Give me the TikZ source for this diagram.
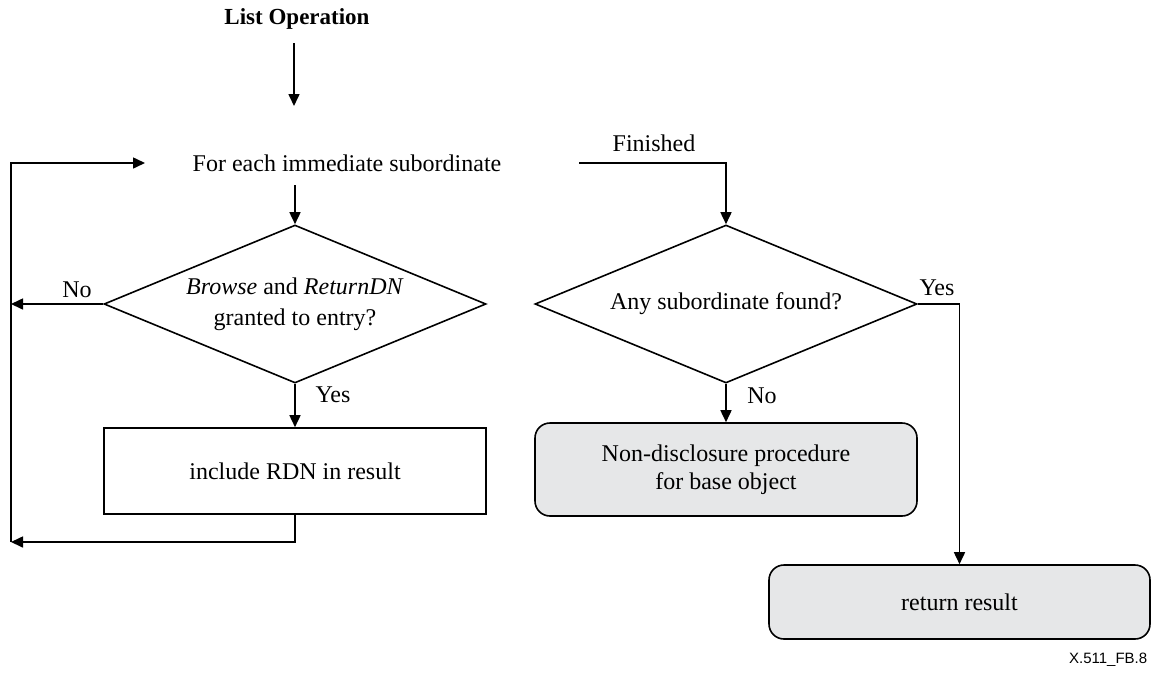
\documentclass[tikz,border=0pt]{standalone}
\usepackage{fontspec}
\setmainfont{Liberation Serif}
\newfontfamily\figsans{Liberation Sans}
\usetikzlibrary{arrows.meta,shapes.geometric}
\definecolor{boxgrey}{RGB}{230,231,232}
\begin{document}
\begin{tikzpicture}[x=1pt,y=-1pt,
  line width=1.6pt,
  txt/.style={font=\fontsize{24}{28}\selectfont},
  arr/.style={-{Triangle[length=12pt,width=11pt]}},
  decision/.style={txt,draw,diamond,aspect=2.4,minimum width=382pt,minimum height=158pt,inner sep=0pt,align=center},
  procbox/.style={txt,draw,rectangle,align=center,inner sep=0pt},
  termbox/.style={txt,draw,rectangle,rounded corners=15pt,fill=boxgrey,align=center,inner sep=0pt},
  lbl/.style={txt,inner sep=0pt}
]
\useasboundingbox (0,0) rectangle (1151,675);
\fill[white] (0,0) rectangle (1151,675);

\node[lbl,font=\fontsize{23}{28}\selectfont\bfseries] (title) at (297,19) {List Operation};
\coordinate (tA) at (294,43);
\coordinate (tB) at (294,106);

\node[lbl] (fe) at (347,163) {For each immediate subordinate};
\coordinate (feout) at (295,185);
\coordinate (loopin) at (145,163);
\coordinate (looptop) at (11,163);
\coordinate (lmid) at (11,304);
\coordinate (loopbot) at (11,542);
\coordinate (fin) at (579,163);
\node[lbl] (finlbl) at (654,143) {Finished};

\node[decision,font=\fontsize{24}{31}\selectfont] (d1) at (295,304) {\textit{Browse} and \textit{ReturnDN}\\granted to entry?};
\node[decision] (d2) at (726,304) {Any subordinate found?};

\node[procbox,minimum width=382pt,minimum height=86pt] (inc) at (295,471) {include RDN in result};
\node[termbox,minimum width=382pt,minimum height=93pt] (nd) at (726,469.5) {Non-disclosure procedure\\for base object};
\node[termbox,minimum width=381pt,minimum height=74pt] (rr) at (959.5,602) {return result};

\node[lbl] (no1) at (77,290) {No};
\node[lbl] (yes1) at (333,395) {Yes};
\node[lbl] (no2) at (762,396) {No};
\node[lbl] (yes2) at (937,288) {Yes};

\node[font=\figsans\fontsize{15}{18}\selectfont,anchor=east,inner sep=0pt] (fig) at (1148,660) {X.511\_FB.8};

\draw[arr] (tA) -- (tB);
\draw[arr] (feout) -- (d1.north);
\draw[arr] (d1.west) -- (lmid);
\draw[arr] (d1.south) -- (inc.north);
\draw[arr] (inc.south) |- (loopbot);
\draw[arr] (loopbot) -- (looptop) -- (loopin);
\draw[arr] (fin) -| (d2.north);
\draw[arr] (d2.south) -- (nd.north);
\draw[arr] (d2.east) -| (rr.north);
\end{tikzpicture}
\end{document}
